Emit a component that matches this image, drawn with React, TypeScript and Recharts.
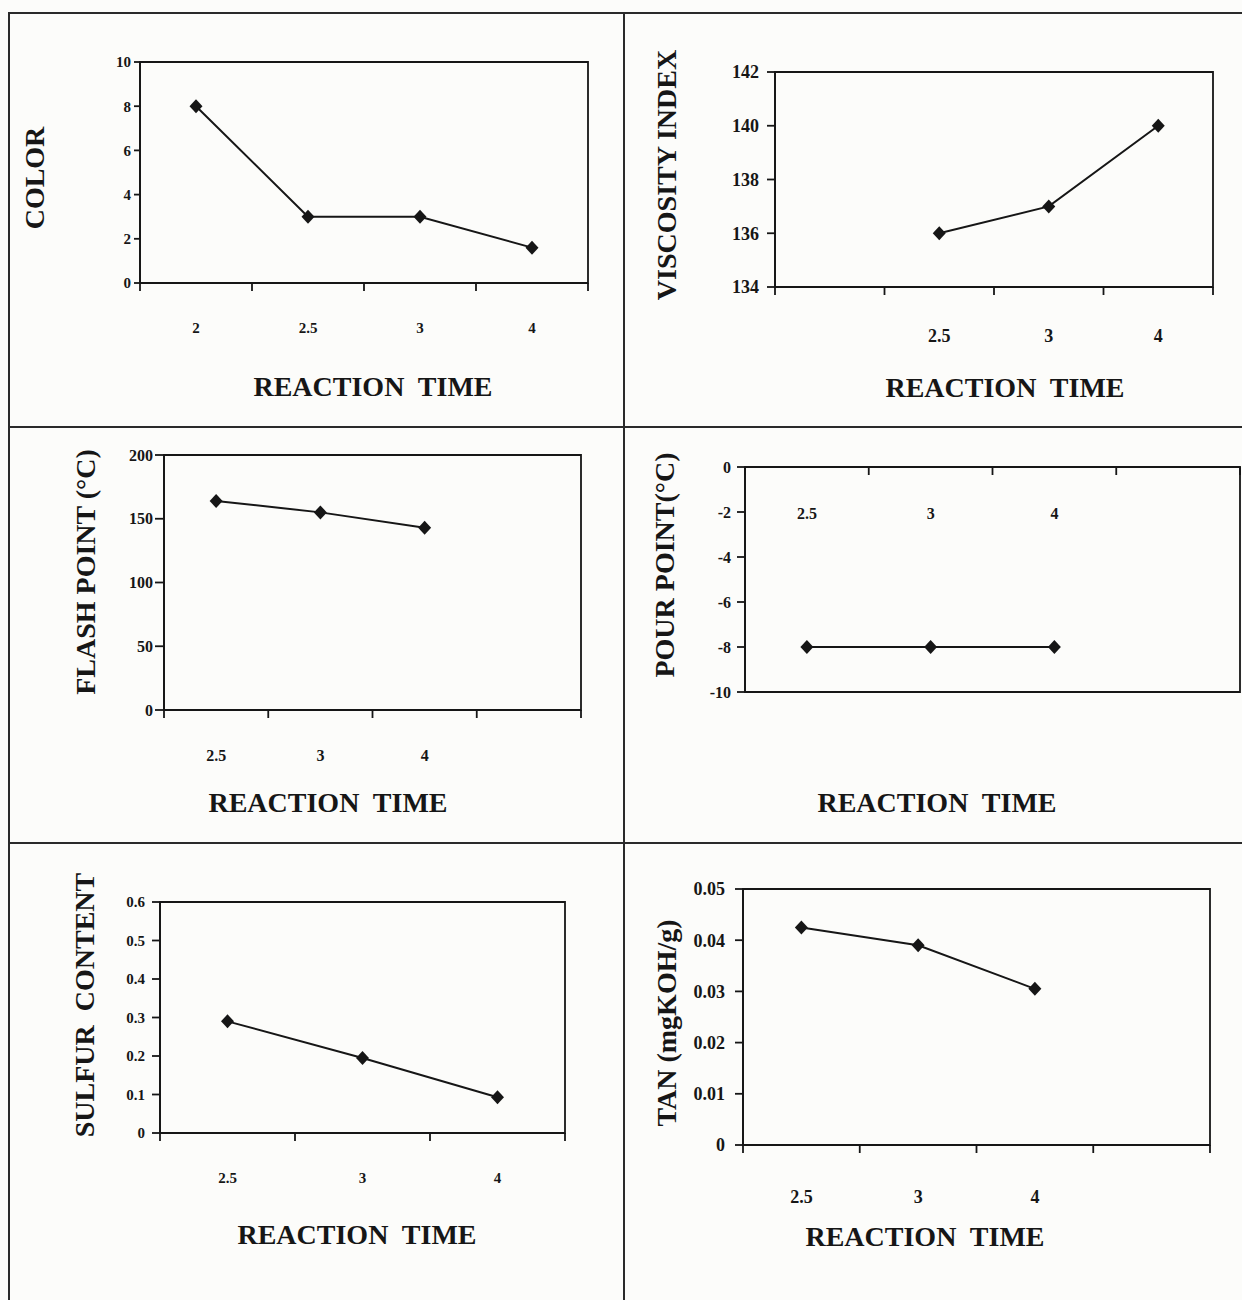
import React from 'react'
import { ComposedChart, Line, XAxis, YAxis, ReferenceArea } from 'recharts'

const colorTimes = ['2', '2.5', '3', '4']
const colorValues = [8, 3, 3, 1.6]
const colorTicks = [0, 2, 4, 6, 8, 10]

const viscosityTimes = ['', '2.5', '3', '4']
const viscosityValues = [null, 136, 137, 140]
const viscosityTicks = [134, 136, 138, 140, 142]

const flashTimes = ['2.5', '3', '4', '']
const flashValues = [164, 155, 143, null]
const flashTicks = [0, 50, 100, 150, 200]

const pourTimes = ['2.5', '3', '4', '']
const pourValues = [-8, -8, -8, null]
const pourTicks = [-10, -8, -6, -4, -2, 0]

const sulfurTimes = ['2.5', '3', '4']
const sulfurValues = [0.29, 0.195, 0.093]
const sulfurTicks = [0, 0.1, 0.2, 0.3, 0.4, 0.5, 0.6]

const tanTimes = ['2.5', '3', '4', '']
const tanValues = [0.0425, 0.039, 0.0305, null]
const tanTicks = [0, 0.01, 0.02, 0.03, 0.04, 0.05]

const SERIF = '"Liberation Serif", "Times New Roman", serif'
const INK = '#161616'
const AXIS_W = 1.8

const YW = 80
const T = 16
const R = 16
const XH = 80
const B = 16

function Diamond(props: any) {
  const { cx, cy, value, index } = props
  if (value == null || cx == null || cy == null) return <g key={`d-${index}`} />
  return (
    <path
      key={`d-${index}`}
      d={`M${cx},${cy - 7} L${cx + 6.5},${cy} L${cx},${cy + 7} L${cx - 6.5},${cy} Z`}
      fill={INK}
    />
  )
}

// Excel style: tick marks sit on slot edges, labels in the middle and well away from the axis
function SlotTick(props: any) {
  const { x, y, payload, index, visibleTicksCount, slotW, labelDy, labelSize } = props
  const half = slotW / 2
  const y2 = y + 8
  return (
    <g>
      <line x1={x - half} y1={y} x2={x - half} y2={y2} stroke={INK} strokeWidth={AXIS_W} />
      {index === visibleTicksCount - 1 && (
        <line x1={x + half} y1={y} x2={x + half} y2={y2} stroke={INK} strokeWidth={AXIS_W} />
      )}
      <text
        x={x}
        y={y + labelDy}
        textAnchor='middle'
        dominantBaseline='central'
        fontFamily={SERIF}
        fontWeight='bold'
        fontSize={labelSize}
        fill={INK}
      >
        {payload.value}
      </text>
    </g>
  )
}

interface PanelProps {
  times: string[]
  values: (number | null)[]
  ticks: number[]
  frame: { l: number; t: number; r: number; b: number }
  top?: boolean
  fs: number
  tickSize: number
  tickMargin: number
  labelDy: number
  yLabel: string
  yLabelAt: [number, number]
  xTitleAt: [number, number]
}

function Panel({
  times,
  values,
  ticks,
  frame,
  top = false,
  fs,
  tickSize,
  tickMargin,
  labelDy,
  yLabel,
  yLabelAt,
  xTitleAt,
}: PanelProps) {
  const data = times.map((t, i) => ({ time: t, value: values[i] }))
  const plotW = frame.r - frame.l
  const plotH = frame.b - frame.t
  const slotW = plotW / times.length
  const width = YW + plotW + R
  const height = T + plotH + XH + B
  const left = frame.l - YW
  const topPx = top ? frame.t - T - XH : frame.t - T
  const yMin = ticks[0]
  const yMax = ticks[ticks.length - 1]

  return (
    <>
      <div style={{ position: 'absolute', left, top: topPx }}>
        <ComposedChart
          width={width}
          height={height}
          data={data}
          margin={{ top: T, right: R, bottom: B, left: 0 }}
        >
          <XAxis
            dataKey='time'
            type='category'
            scale='band'
            orientation={top ? 'top' : 'bottom'}
            height={XH}
            interval={0}
            tickSize={0}
            tickMargin={0}
            axisLine={{ stroke: INK, strokeWidth: AXIS_W }}
            tickLine={false}
            tick={(p: any) => (
              <SlotTick {...p} slotW={slotW} labelDy={labelDy} labelSize={fs} />
            )}
          />
          <YAxis
            type='number'
            domain={[yMin, yMax]}
            ticks={ticks}
            interval={0}
            width={YW}
            tickSize={tickSize}
            tickMargin={tickMargin}
            axisLine={{ stroke: INK, strokeWidth: AXIS_W }}
            tickLine={{ stroke: INK, strokeWidth: AXIS_W }}
            tick={{ fontSize: fs, fontWeight: 'bold', fontFamily: SERIF, fill: INK }}
          />
          {/* plot frame: full box around the plot area */}
          <ReferenceArea
            y1={yMin}
            y2={yMax}
            fill='none'
            stroke={INK}
            strokeWidth={AXIS_W}
          />
          <Line
            type='linear'
            dataKey='value'
            stroke={INK}
            strokeWidth={2}
            dot={Diamond}
            activeDot={false}
            connectNulls={false}
            isAnimationActive={false}
          />
        </ComposedChart>
      </div>
      <div
        style={{
          position: 'absolute',
          left: yLabelAt[0],
          top: yLabelAt[1],
          transform: 'translate(-50%, -50%) rotate(-90deg)',
          whiteSpace: 'pre',
          fontFamily: SERIF,
          fontWeight: 'bold',
          fontSize: 28,
          lineHeight: 1,
          color: INK,
        }}
      >
        {yLabel}
      </div>
      <div
        style={{
          position: 'absolute',
          left: xTitleAt[0],
          top: xTitleAt[1],
          transform: 'translate(-50%, -50%)',
          whiteSpace: 'pre',
          fontFamily: SERIF,
          fontWeight: 'bold',
          fontSize: 28,
          lineHeight: 1,
          color: INK,
        }}
      >
        REACTION  TIME
      </div>
    </>
  )
}

const rule = (left: number, top: number, w: number, h: number) => (
  <div style={{ position: 'absolute', left, top, width: w, height: h, background: '#2a2a2a' }} />
)

export default function App() {
  return (
    <div
      style={{
        position: 'absolute',
        left: 0,
        top: 0,
        width: 1242,
        height: 1300,
        background: '#fcfcfa',
        overflow: 'hidden',
      }}
    >
      {rule(8, 12, 1234, 2)}
      {rule(8, 12, 2, 1288)}
      {rule(623, 12, 2, 1288)}
      {rule(8, 426, 1234, 2)}
      {rule(8, 842, 1234, 2)}

      <Panel
        times={colorTimes}
        values={colorValues}
        ticks={colorTicks}
        frame={{ l: 140, t: 62, r: 588, b: 283 }}
        fs={15}
        tickSize={6}
        tickMargin={3}
        labelDy={45}
        yLabel='COLOR'
        yLabelAt={[35, 178]}
        xTitleAt={[373, 387]}
      />
      <Panel
        times={viscosityTimes}
        values={viscosityValues}
        ticks={viscosityTicks}
        frame={{ l: 775, t: 72, r: 1213, b: 287 }}
        fs={18}
        tickSize={8}
        tickMargin={8}
        labelDy={49}
        yLabel='VISCOSITY INDEX'
        yLabelAt={[667, 175]}
        xTitleAt={[1005, 388]}
      />
      <Panel
        times={flashTimes}
        values={flashValues}
        ticks={flashTicks}
        frame={{ l: 164, t: 455, r: 581, b: 710 }}
        fs={16}
        tickSize={9}
        tickMargin={2}
        labelDy={45}
        yLabel='FLASH POINT (°C)'
        yLabelAt={[86, 572]}
        xTitleAt={[328, 803]}
      />
      <Panel
        times={pourTimes}
        values={pourValues}
        ticks={pourTicks}
        frame={{ l: 745, t: 467, r: 1240, b: 692 }}
        top
        fs={16}
        tickSize={8}
        tickMargin={6}
        labelDy={46}
        yLabel='POUR POINT(°C)'
        yLabelAt={[665, 565]}
        xTitleAt={[937, 803]}
      />
      <Panel
        times={sulfurTimes}
        values={sulfurValues}
        ticks={sulfurTicks}
        frame={{ l: 160, t: 902, r: 565, b: 1133 }}
        fs={15}
        tickSize={8}
        tickMargin={7}
        labelDy={45}
        yLabel='SULFUR  CONTENT'
        yLabelAt={[85, 1005]}
        xTitleAt={[357, 1235]}
      />
      <Panel
        times={tanTimes}
        values={tanValues}
        ticks={tanTicks}
        frame={{ l: 743, t: 889, r: 1210, b: 1145 }}
        fs={18}
        tickSize={8}
        tickMargin={10}
        labelDy={52}
        yLabel='TAN (mgKOH/g)'
        yLabelAt={[667, 1023]}
        xTitleAt={[925, 1237]}
      />
    </div>
  )
}
